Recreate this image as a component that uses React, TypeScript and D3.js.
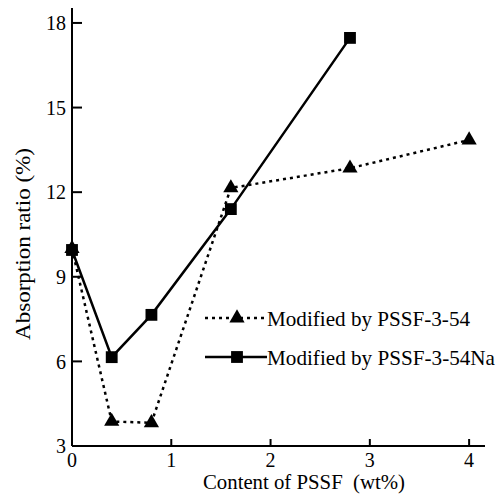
import * as d3 from "d3";

const xTicks = [0, 1, 2, 3, 4];
const yTicks = [3, 6, 9, 12, 15, 18];

const seriesA_x = [0, 0.4, 0.8, 1.6, 2.8, 4.0];
const seriesA_y = [10.0, 3.87, 3.82, 12.15, 12.85, 13.85];
const seriesA_name = "Modified by PSSF-3-54";

const seriesB_x = [0, 0.4, 0.8, 1.6, 2.8];
const seriesB_y = [9.95, 6.15, 7.65, 11.4, 17.47];
const seriesB_name = "Modified by PSSF-3-54Na";

const W = 497;
const H = 495;
const font = "Liberation Serif, DejaVu Serif, Times New Roman, serif";

export default function App() {
    const x = d3.scaleLinear().domain([0, 4.16]).range([72, 485]);
    const y = d3.scaleLinear().domain([3, 18.53]).range([446, 8]);

    const line = d3
        .line<[number, number]>()
        .x((d) => x(d[0]))
        .y((d) => y(d[1]));

    const ptsA = seriesA_x.map((v, i) => [v, seriesA_y[i]] as [number, number]);
    const ptsB = seriesB_x.map((v, i) => [v, seriesB_y[i]] as [number, number]);

    const tri = d3.symbol().type(d3.symbolTriangle).size(100)();
    const sq = d3.symbol().type(d3.symbolSquare).size(140)();

    const dotted = "3,4";
    const txt = { fontFamily: font };

    return (
        <svg
            width={W}
            height={H}
            style={{ position: "absolute", left: 0, top: 0, background: "#fff" }}
        >
            {/* axes */}
            <line x1={x(0)} x2={x(0)} y1={y(3)} y2={y.range()[1]} stroke="#000" strokeWidth={2} />
            <line x1={x(0)} x2={x.range()[1]} y1={y(3)} y2={y(3)} stroke="#000" strokeWidth={2} />
            {yTicks.map((t) => (
                <g key={"y" + t}>
                    {t !== 3 && (
                        <line x1={x(0)} x2={x(0) + 10} y1={y(t)} y2={y(t)} stroke="#000" strokeWidth={2} />
                    )}
                    <text x={x(0) - 6} y={y(t)} dy="0.36em" textAnchor="end" fontSize={20} style={txt}>
                        {t}
                    </text>
                </g>
            ))}
            {xTicks.map((t) => (
                <g key={"x" + t}>
                    {t !== 0 && (
                        <line x1={x(t)} x2={x(t)} y1={y(3)} y2={y(3) - 7} stroke="#000" strokeWidth={2} />
                    )}
                    <text x={x(t)} y={467} textAnchor="middle" fontSize={20} style={txt}>
                        {t}
                    </text>
                </g>
            ))}

            {/* axis titles */}
            <text
                x={203}
                y={489}
                fontSize={20}
                textLength={202}
                lengthAdjust="spacingAndGlyphs"
                style={txt}
            >
                Content of PSSF{"\u00a0\u00a0"}(wt%)
            </text>
            <text
                transform="translate(30,340) rotate(-90)"
                fontSize={20}
                textLength={192}
                lengthAdjust="spacingAndGlyphs"
                style={txt}
            >
                Absorption ratio (%)
            </text>

            {/* series A dotted */}
            <path d={line(ptsA) ?? ""} fill="none" stroke="#000" strokeWidth={2.5} strokeDasharray={dotted} />
            {ptsA.map((p, i) => (
                <path key={"a" + i} d={tri ?? ""} transform={`translate(${x(p[0])},${y(p[1])})`} fill="#000" />
            ))}

            {/* series B solid */}
            <path d={line(ptsB) ?? ""} fill="none" stroke="#000" strokeWidth={2.5} />
            {ptsB.map((p, i) => (
                <path key={"b" + i} d={sq ?? ""} transform={`translate(${x(p[0])},${y(p[1])})`} fill="#000" />
            ))}

            {/* legend */}
            <g>
                <line x1={205} x2={267} y1={318} y2={318} stroke="#000" strokeWidth={2.5} strokeDasharray={dotted} />
                <path d={tri ?? ""} transform="translate(237,318)" fill="#000" />
                <text
                    x={267}
                    y={318}
                    dy="0.36em"
                    fontSize={21}
                    textLength={203}
                    lengthAdjust="spacingAndGlyphs"
                    style={txt}
                >
                    {seriesA_name}
                </text>
                <line x1={205} x2={267} y1={357} y2={357} stroke="#000" strokeWidth={2.5} />
                <path d={sq ?? ""} transform="translate(237,357)" fill="#000" />
                <text
                    x={267}
                    y={357}
                    dy="0.36em"
                    fontSize={21}
                    textLength={228}
                    lengthAdjust="spacingAndGlyphs"
                    style={txt}
                >
                    {seriesB_name}
                </text>
            </g>
        </svg>
    );
}
